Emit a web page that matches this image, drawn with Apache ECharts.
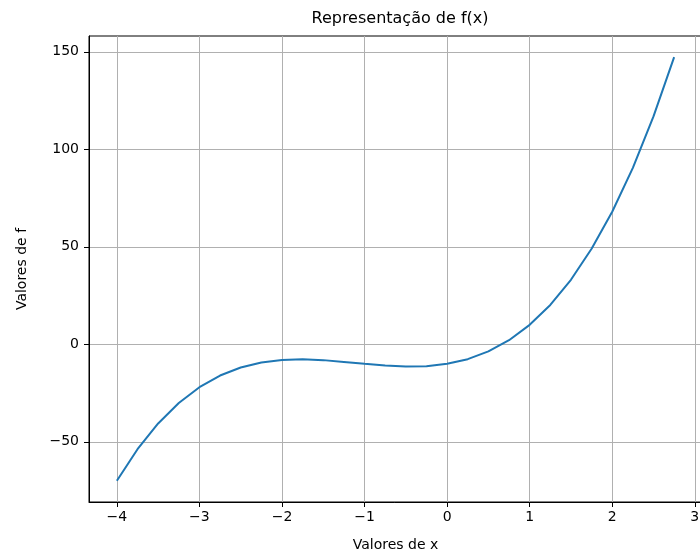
<!DOCTYPE html>
<html>
<head>
<meta charset="utf-8">
<script src="https://cdn.jsdelivr.net/npm/echarts@6/dist/echarts.min.js"></script>
<style>
  html, body { margin: 0; padding: 0; background: #fff; }
  #chart { width: 700px; height: 555px; }
</style>
</head>
<body>
<div id="chart"></div>
<script>
// valores
const xValues = [-4, -3.75, -3.5, -3.25, -3, -2.75, -2.5, -2.25, -2, -1.75, -1.5, -1.25, -1, -0.75,
  -0.5, -0.25, 0, 0.25, 0.5, 0.75, 1, 1.25, 1.5, 1.75, 2, 2.25, 2.5, 2.75];
const fValues = [-70, -53.8, -40.6, -30.1, -22, -16.0, -11.9, -9.3, -8, -7.7, -8.1, -9.0, -10, -10.9,
  -11.4, -11.2, -10, -7.6, -3.6, 2.1, 10, 20.2, 33.1, 49.0, 68, 90.5, 116.9, 147.3];
const xTicks = [-4, -3, -2, -1, 0, 1, 2, 3];
const yTicks = [-50, 0, 50, 100, 150];

const font = 'DejaVu Sans';
const minus = v => String(v).replace('-', '\u2212');

let chart = echarts.init(document.getElementById('chart'), null, { renderer: 'canvas' });

chart.setOption({
    animation: false,
    title: {
        text: 'Representação de f(x)',
        left: 395,
        top: 6,
        textAlign: 'center',
        textStyle: { fontFamily: font, fontSize: 16, fontWeight: 'normal', color: '#000' }
    },
    grid: {
        left: 89, right: -2, top: 36, bottom: 53,
        outerBoundsMode: 'none',
        containLabel: false,
        show: true, borderColor: '#000', borderWidth: 1
    },
    xAxis: {
        type: 'value',
        min: -4.3375,
        max: 3.0875,
        name: 'Valores de x',
        nameLocation: 'middle',
        nameGap: 36,
        nameTextStyle: { fontFamily: font, fontSize: 14, color: '#000' },
        axisLine: { show: true, onZero: false, lineStyle: { color: '#000', width: 1 } },
        axisTick: { show: true, customValues: xTicks, length: 5, lineStyle: { color: '#000' } },
        axisLabel: { customValues: xTicks, margin: 8, fontFamily: font, fontSize: 14, color: '#000', formatter: minus },
        splitLine: { show: true, lineStyle: { color: '#b0b0b0', width: 1 } }
    },
    yAxis: {
        type: 'value',
        min: -80.86,
        max: 158.13,
        name: 'Valores de f',
        nameLocation: 'middle',
        nameGap: 60,
        nameTextStyle: { fontFamily: font, fontSize: 14, color: '#000' },
        axisLine: { show: true, onZero: false, lineStyle: { color: '#000', width: 1 } },
        axisTick: { show: true, customValues: yTicks, length: 5, lineStyle: { color: '#000' } },
        axisLabel: { customValues: yTicks, margin: 10, fontFamily: font, fontSize: 14, color: '#000', formatter: minus },
        splitLine: { show: true, lineStyle: { color: '#b0b0b0', width: 1 } }
    },
    series: [{
        type: 'line',
        data: xValues.map((x, i) => [x, fValues[i]]),
        showSymbol: false,
        symbol: 'none',
        lineStyle: { color: '#1f77b4', width: 2 },
        itemStyle: { color: '#1f77b4' }
    }]
});
</script>
</body>
</html>
